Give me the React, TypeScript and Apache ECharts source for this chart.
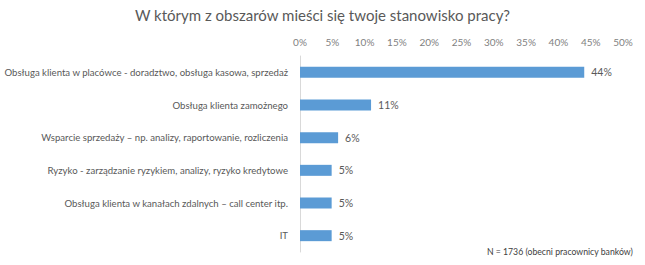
import React, { useEffect, useRef } from "react";
import * as echarts from "echarts";

const categories = [
  "Obsługa klienta w placówce - doradztwo, obsługa kasowa, sprzedaż",
  "Obsługa klienta zamożnego",
  "Wsparcie sprzedaży – np. analizy, raportowanie, rozliczenia",
  "Ryzyko - zarządzanie ryzykiem, analizy, ryzyko kredytowe",
  "Obsługa klienta w kanałach zdalnych – call center itp.",
  "IT",
];
const values = [44, 11, 5.9, 4.9, 4.9, 4.9];
const titleText = "W którym z obszarów mieści się twoje stanowisko pracy?";
const noteText = "N = 1736 (obecni pracownicy banków)";

export default function App() {
  const ref = useRef<HTMLDivElement>(null);
  useEffect(() => {
    if (!ref.current) return;
    const chart = echarts.init(ref.current, null, { renderer: "svg" });
    const font = "Lato, 'Open Sans', sans-serif";
    chart.setOption({
      animation: false,
      textStyle: { fontFamily: font },
      title: {
        text: titleText,
        left: "center",
        top: 7,
        padding: 0,
        textStyle: { fontSize: 15, fontWeight: "normal", color: "#595959", fontFamily: font },
      },
      graphic: [
        {
          type: "text",
          right: 12,
          top: 247,
          style: { text: noteText, fontSize: 8.7, fill: "#404040", fontFamily: font },
        },
      ],
      grid: { left: 300, top: 56, width: 323, height: 196, containLabel: false, outerBoundsMode: "none" },
      xAxis: {
        type: "value",
        position: "top",
        min: 0,
        max: 50,
        interval: 5,
        axisLine: { show: false },
        axisTick: { show: false },
        splitLine: { show: false },
        axisLabel: { formatter: "{value}%", color: "#7f7f7f", fontSize: 10, margin: 9, fontFamily: font },
      },
      yAxis: {
        type: "category",
        inverse: true,
        data: categories,
        axisLine: { show: true, lineStyle: { color: "#d9d9d9" } },
        axisTick: { show: false },
        axisLabel: { color: "#595959", fontSize: 9.6, margin: 12, fontFamily: font },
      },
      series: [
        {
          type: "bar",
          data: values,
          barWidth: 11,
          itemStyle: { color: "#5B9BD5" },
          label: {
            show: true,
            position: "right",
            distance: 7,
            color: "#595959",
            fontSize: 10.5,
            fontFamily: font,
            formatter: (p: any) => Math.round(p.value) + "%",
          },
        },
      ],
    });
    return () => chart.dispose();
  }, []);
  return <div ref={ref} style={{ width: 645, height: 265, position: "absolute", left: 0, top: 0 }} />;
}
